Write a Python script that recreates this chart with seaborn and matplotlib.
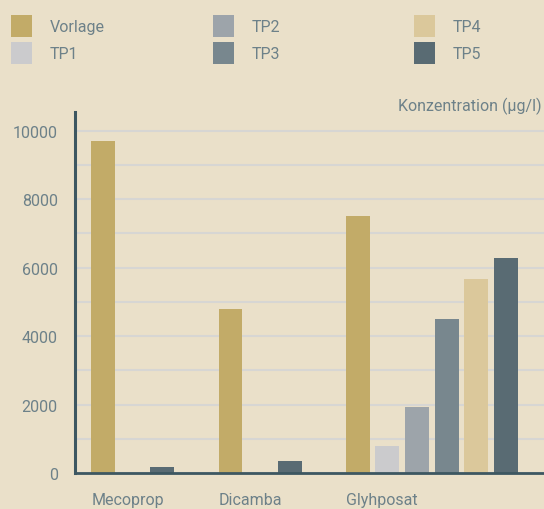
import numpy as np
import pandas as pd
import seaborn as sns
import matplotlib.pyplot as plt
from matplotlib.ticker import MultipleLocator

# data
GROUPS = ["Mecoprop", "Dicamba", "Glyhposat"]
SERIES = ["Vorlage", "TP1", "TP2", "TP3", "TP4", "TP5"]
MECOPROP = [9700, None, None, None, None, 170]
DICAMBA = [4780, None, None, None, None, 350]
GLYPHOSAT = [7500, 780, 1920, 4500, 5680, 6280]
Y_LABEL = "Konzentration (µg/l)"

# styles
COLORS = ["#c2ab68", "#cbcbcd", "#9da4aa", "#78878e", "#dbc89b", "#596b73"]
BG = "#eae0c9"
TEXT = "#6d8189"
AXIS = "#3d5761"
GRID = "#d7d6d3"
GROUP_GAP = 2.3
BAR_WIDTH = 0.81


def build_frame(groups, series, values):
    rows = []
    cursor = 0.0
    for group, vals in zip(groups, values):
        in_gap = False
        for name, v in zip(series, vals):
            if v is None:
                if not in_gap:
                    cursor += 1
                in_gap = True
                continue
            in_gap = False
            rows.append({"group": group, "series": name, "value": v, "pos": round(cursor, 3)})
            cursor += 1
        cursor += GROUP_GAP - 1
    return pd.DataFrame(rows)


df = build_frame(GROUPS, SERIES, [MECOPROP, DICAMBA, GLYPHOSAT])

sns.set_style("white")
plt.rcParams["font.family"] = ["Roboto", "DejaVu Sans"]
plt.rcParams["font.size"] = 11.5
plt.rcParams["text.color"] = TEXT

fig = plt.figure(figsize=(5.44, 5.10), dpi=100, facecolor=BG)
ax = fig.add_axes([74.5 / 544, 36 / 510, 1 - 74.5 / 544, (474 - 113) / 510])
ax.set_facecolor(BG)

sns.barplot(data=df, x="pos", y="value", hue="series", hue_order=SERIES,
            palette=dict(zip(SERIES, COLORS)), native_scale=True, dodge=False,
            width=BAR_WIDTH, saturation=1, linewidth=0, ax=ax)

handles, labels = ax.get_legend_handles_labels()
ax.legend_.remove()

ax.set_xlim(-0.97, 14.89)
ax.set_ylim(0, 10550)
ax.yaxis.set_major_locator(MultipleLocator(2000))
ax.yaxis.set_minor_locator(MultipleLocator(1000))
ax.grid(True, axis="y", which="both", color=GRID, linewidth=1.5)
ax.set_axisbelow(True)

# category labels left-aligned at first bar of each group
firsts = df.groupby("group", sort=False)["pos"].min()
ax.set_xticks(firsts.values - BAR_WIDTH / 2, firsts.index, ha="left")
ax.tick_params(axis="x", length=0, pad=14, labelcolor=TEXT, labelsize=11.5)
ax.tick_params(axis="y", length=0, pad=12, labelcolor=TEXT, labelsize=11.5)
ax.set_xlabel("")
ax.set_ylabel("")

for side in ["top", "right"]:
    ax.spines[side].set_visible(False)
ax.spines["left"].set_color(AXIS)
ax.spines["left"].set_linewidth(2.2)
ax.spines["bottom"].set_color(AXIS)
ax.spines["bottom"].set_linewidth(2.0)

fig.text(542 / 544, 1 - 106 / 510, Y_LABEL, ha="right", va="center", fontsize=11.5, color=TEXT)

# legend in three fixed columns
for i, x in enumerate([11, 213, 414]):
    fig.legend(handles[2 * i:2 * i + 2], labels[2 * i:2 * i + 2], loc="upper left",
               bbox_to_anchor=(x / 544, 1 - 16 / 510), frameon=False, borderpad=0,
               borderaxespad=0, handlelength=1.31, handleheight=1.74, handletextpad=1.1,
               labelspacing=0.3, fontsize=11.5, labelcolor=TEXT)

fig.savefig("out.png", dpi=100, facecolor=BG)
